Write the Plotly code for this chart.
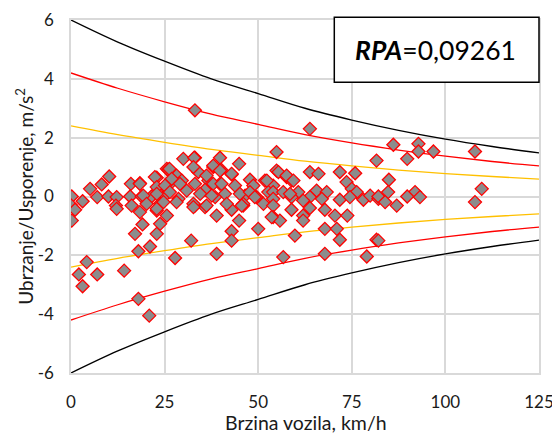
import plotly.graph_objects as go

# measured points (speed km/h, acceleration m/s2)
speed = [0.2, 0.0, 1.1, 0.2, 3.1, 5.1, 7.0, 8.2, 10.2, 10.0, 12.2, 12.0, 12.2, 16.0, 18.4,
         15.8, 18.9, 16.2, 18.4, 19.1, 17.1, 18.0, 21.1, 22.9, 21.5, 22.9, 23.8, 22.9, 24.7,
         25.1, 25.6, 23.8, 4.2, 2.1, 3.1, 7.0, 14.2, 18.0, 20.9, 27.8,
         30.0, 33.1, 39.8, 44.9, 38.0, 34.0, 40.1, 42.9, 26.0, 28.2, 36.7, 26.9, 29.6, 33.1,
         39.8, 43.8, 47.8, 48.7, 51.8, 54.0, 30.9, 35.8, 41.1, 46.5, 49.6, 52.7, 28.7, 33.1,
         35.8, 38.5, 42.9, 46.0, 51.4, 25.6, 38.9, 44.9, 50.0, 42.9, 42.9, 32.1, 38.9, 33.1,
         63.8, 54.9, 54.9, 63.8, 66.1, 71.8, 75.9, 81.6, 57.6, 58.9, 73.6, 75.0, 76.3, 54.0,
         56.7, 60.7, 65.6, 68.3, 54.0, 58.9, 63.8, 67.0, 71.8, 74.5, 78.1, 79.9, 82.1, 62.0,
         54.0, 58.9, 63.8, 67.8, 62.0, 54.0, 55.8, 62.0, 70.5, 73.8, 67.8, 71.0, 59.8, 71.8,
         81.6, 56.7, 67.8, 79.0,
         86.1, 92.8, 92.8, 96.8, 89.8, 107.9, 84.9, 109.7, 107.9, 91.9, 89.8, 93.2, 84.7,
         82.1, 83.9, 87.0, 82.1,
         32.9, 38.0, 26.3, 32.7, 39.8, 42.9, 22.4, 26.9, 36.2, 38.0, 40.2, 18.4, 22.9, 25.1,
         29.1, 52.3, 55.4, 57.6, 59.4, 19.3, 22.9, 26.4, 34.5, 37.6, 45.1, 47.8, 49.1, 58.5,
         20.2, 24.7, 28.2, 32.7, 36.2, 41.6, 46.0, 22.9, 32.7, 45.6, 53.6]
accel = [0.0, -0.3, -0.45, -0.82, -0.16, 0.26, -0.02, 0.41, 0.68, 0.0, -0.02, -0.31, -0.42, 0.43, 0.45,
         0.0, 0.0, -0.31, -0.53, -0.95, -1.27, -1.86, -1.70, 0.64, 0.0, -0.48, -0.93, -1.27, -0.02,
         0.32, 0.94, -0.24, -2.23, -2.65, -3.05, -2.65, -2.52, -3.48, -4.05, -2.09,
         1.28, 1.32, 1.32, 1.11, 1.0, 0.83, 0.91, 0.75, 0.91, 0.71, 0.54, 0.49, 0.54, 0.43,
         0.43, 0.37, 0.57, 0.37, 0.54, 0.37, 0.2, 0.23, 0.09, 0.03, -0.02, 0.15, -0.08, -0.31,
         -0.36, -0.02, -0.45, -0.31, -0.25, -0.65, -0.65, -0.82, -1.10, -1.18, -1.50, -1.50, -1.95, 2.93,
         2.30, 1.51, 0.88, 0.83, 0.77, 0.83, 0.79, 1.22, 0.66, 0.54, 0.49, 0.26, 0.15, 0.15,
         0.15, 0.15, 0.20, 0.15, -0.08, -0.02, -0.02, -0.08, -0.11, -0.02, -0.11, 0.03, -0.08, -0.14,
         -0.31, -0.45, -0.39, -0.45, -0.65, -0.70, -0.82, -0.82, -0.65, -0.65, -1.10, -1.10, -1.33, -1.47,
         -1.47, -2.06, -1.95, -2.04,
         1.76, 1.79, 1.53, 1.53, 1.28, 1.53, 0.57, 0.26, -0.19, 0.15, 0.0, -0.02, 0.15,
         0.0, -0.19, -0.31, -1.50,
         1.32, 1.05, 0.94, 1.0, 0.88, 0.77, 0.66, 0.60, 0.71, 0.43, 0.43, 0.43, 0.32, 0.37,
         0.43, 0.54, 0.83, 0.71, 0.54, 0.03, 0.09, 0.15, 0.09, 0.03, 0.09, 0.15, -0.02, 0.09,
         -0.25, -0.19, -0.19, -0.25, -0.31, -0.25, -0.25, -0.42, -0.36, -0.31, -0.70]

# limit curves
curve_x = [0, 12.5, 25, 37.5, 50, 62.5, 75, 87.5, 100, 112.5, 125]
black_y = [6.0, 5.25, 4.6, 4.0, 3.5, 3.0, 2.6, 2.25, 1.95, 1.7, 1.48]
red_y = [4.2, 3.68, 3.22, 2.8, 2.45, 2.1, 1.82, 1.58, 1.37, 1.19, 1.04]
orange_y = [2.4, 2.1, 1.84, 1.6, 1.4, 1.2, 1.04, 0.9, 0.78, 0.68, 0.59]

y_ticks = [-6, -4, -2, 0, 2, 4, 6]
x_ticks = [0, 25, 50, 75, 100, 125]

fig = go.Figure()
for ys, col in [(black_y, "black"), (red_y, "#ff0000"), (orange_y, "#ffc000")]:
    fig.add_trace(go.Scatter(x=curve_x, y=ys, mode="lines", line=dict(color=col, width=1.3, shape="spline")))
    fig.add_trace(go.Scatter(x=curve_x, y=[-v for v in ys], mode="lines",
                             line=dict(color=col, width=1.3, shape="spline")))

fig.add_trace(go.Scatter(x=speed, y=accel, mode="markers",
                         marker=dict(symbol="diamond", size=10, color="#8c8c8c",
                                     line=dict(color="#ff0000", width=1.3))))

# RPA box
fig.add_shape(type="rect", xref="paper", yref="paper", x0=0.5626, x1=1.0, y0=0.824, y1=1.0076,
              line=dict(color="black", width=1.5), fillcolor="white", layer="above")
fig.add_annotation(xref="paper", yref="paper", x=0.779, y=0.914, xanchor="center", yanchor="middle",
                   showarrow=False, text="<b><i>RPA</i></b>=0,09261", font=dict(size=26.5, color="black"))

# axis titles
fig.add_annotation(xref="paper", yref="paper", x=0.502, y=-0.14, xanchor="center", yanchor="middle",
                   showarrow=False, text="Brzina vozila, km/h", font=dict(size=19.5))
fig.add_annotation(xref="paper", yref="paper", x=-0.1, y=0.5, xanchor="center", yanchor="middle",
                   textangle=-90, showarrow=False, text="Ubrzanje/Usporenje, m/s<sup>2</sup>",
                   font=dict(size=19))

# page body has an 8px margin, so the figure is drawn 8px smaller
fig.update_layout(
    width=552, height=426,
    margin=dict(l=63, r=21, t=12, b=61),
    paper_bgcolor="white", plot_bgcolor="white",
    showlegend=False,
    font=dict(family="Lato, Open Sans, sans-serif", color="#1a1a1a", size=17),
)
fig.update_xaxes(range=[0, 125], tickvals=x_ticks, ticktext=[str(v) for v in x_ticks],
                 showgrid=True, gridcolor="#d9d9d9", gridwidth=1.5, zeroline=False,
                 showline=True, linecolor="#d9d9d9", linewidth=1.5, mirror=True,
                 ticks="outside", ticklen=13, tickcolor="rgba(0,0,0,0)", automargin=False)
fig.update_yaxes(range=[-6, 6], tickvals=y_ticks, ticktext=[str(v) for v in y_ticks],
                 showgrid=True, gridcolor="#d9d9d9", gridwidth=1.5, zeroline=False,
                 showline=True, linecolor="#d9d9d9", linewidth=1.5, mirror=True,
                 ticks="outside", ticklen=12, tickcolor="rgba(0,0,0,0)", automargin=False)

fig.write_html("out.html")
